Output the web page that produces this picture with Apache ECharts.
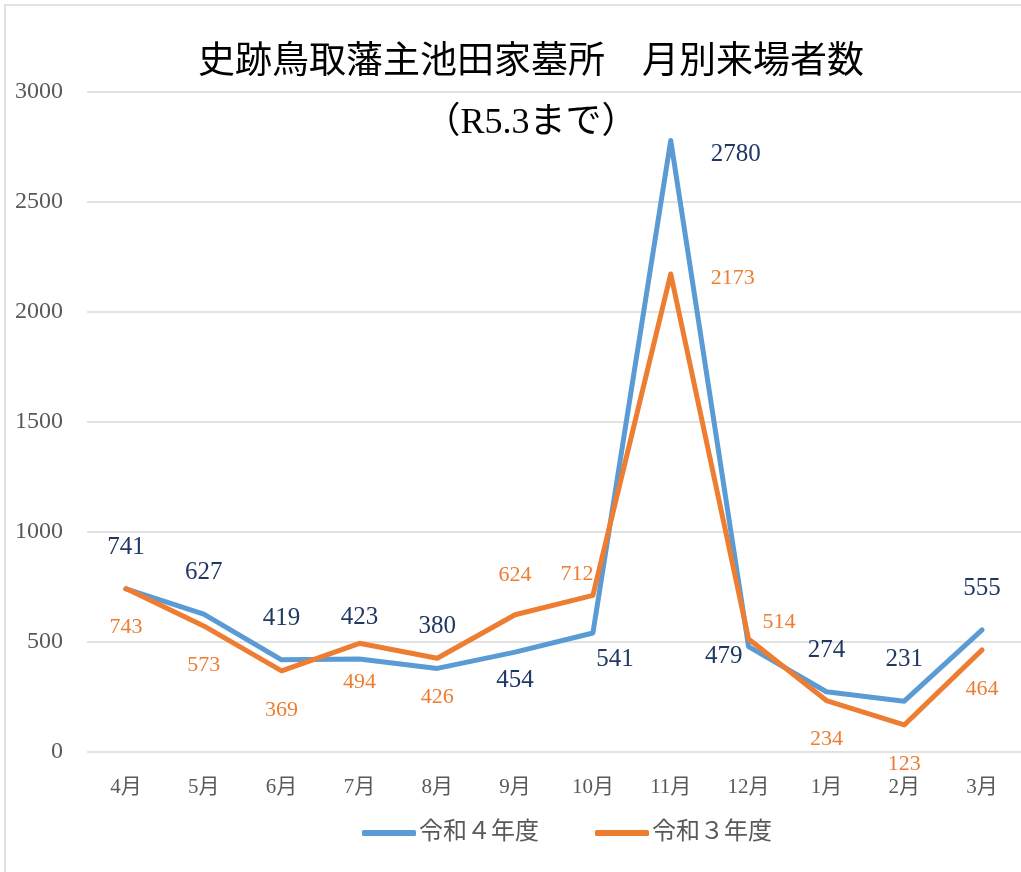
<!DOCTYPE html>
<html>
<head>
<meta charset="utf-8">
<script src="https://cdn.jsdelivr.net/npm/echarts@6/dist/echarts.min.js"></script>
<style>
  html, body { margin: 0; padding: 0; background: #fff; }
  #main { width: 1021px; height: 872px; }
</style>
</head>
<body>
<div id="main"></div>
<script>
const months = ['4月', '5月', '6月', '7月', '8月', '9月', '10月', '11月', '12月', '1月', '2月', '3月'];
const r4Values = [741, 627, 419, 423, 380, 454, 541, 2780, 479, 274, 231, 555];
const r3Values = [743, 573, 369, 494, 426, 624, 712, 2173, 514, 234, 123, 464];
const yTicks = [0, 500, 1000, 1500, 2000, 2500, 3000];

// label placement per point (above / below / side)
const r4LabelPos = ['top', 'top', 'top', 'top', 'top', 'bottomNear', 'bottomRight', 'rightLow', 'bottomLeft', 'top', 'top', 'top'];
const r3LabelPos = ['bottom', 'bottom', 'bottom', 'bottom', 'bottom', 'top', 'topLeft', 'rightHigh', 'topRight', 'bottom', 'bottom', 'bottom'];

const serif = "'Liberation Serif', 'DejaVu Serif', 'Noto Sans CJK JP', serif";

function labelFor(pos) {
  switch (pos) {
    case 'top': return { position: 'top', distance: 29 };
    case 'bottom': return { position: 'bottom', distance: 28 };
    case 'bottomNear': return { position: 'bottom', distance: 16 };
    case 'rightLow': return { position: 'right', distance: 40, offset: [0, 14] };
    case 'rightHigh': return { position: 'right', distance: 40, offset: [0, 4] };
    case 'bottomRight': return { position: 'bottom', distance: 14, offset: [22, 0] };
    case 'bottomLeft': return { position: 'left', distance: 6, offset: [0, 10] };
    case 'topLeft': return { position: 'top', distance: 10, offset: [-16, 0] };
    case 'topRight': return { position: 'right', distance: 14, offset: [0, -17] };
  }
}

function buildData(values, positions) {
  return values.map((v, i) => ({ value: v, label: labelFor(positions[i]) }));
}

const chart = echarts.init(document.getElementById('main'));

chart.setOption({
  backgroundColor: '#fff',
  animation: false,
  title: {
    text: '史跡鳥取藩主池田家墓所　月別来場者数',
    subtext: '（R5.3まで）',
    left: 526,
    top: 40,
    textAlign: 'center',
    itemGap: 24,
    textStyle: { fontFamily: serif, fontSize: 37, fontWeight: 'normal', color: '#000' },
    subtextStyle: { fontFamily: serif, fontSize: 36, color: '#000' }
  },
  graphic: [{
    type: 'rect',
    shape: { x: 5, y: 5, width: 1100, height: 1000 },
    style: { fill: 'none', stroke: '#d9d9d9', lineWidth: 1.5 },
    silent: true
  }],
  legend: {
    bottom: 22,
    left: 357,
    itemGap: 56,
    itemWidth: 54,
    itemHeight: 6,
    icon: 'roundRect',
    textStyle: { fontFamily: serif, fontSize: 24, color: '#595959', padding: [0, 0, 0, -2] },
    data: ['令和４年度', '令和３年度']
  },
  grid: { left: 87, right: -1, top: 92, bottom: 120 },
  xAxis: {
    type: 'category',
    data: months,
    boundaryGap: true,
    axisLine: { show: false },
    axisTick: { show: false },
    axisLabel: { fontFamily: serif, fontSize: 21, color: '#595959', margin: 25 }
  },
  yAxis: {
    type: 'value',
    min: yTicks[0],
    max: yTicks[yTicks.length - 1],
    interval: 500,
    axisLine: { show: false },
    axisTick: { show: false },
    axisLabel: { fontFamily: serif, fontSize: 24, color: '#595959', margin: 24, formatter: v => String(v) },
    splitLine: { lineStyle: { color: '#d9d9d9', width: 1.5 } }
  },
  series: [
    {
      name: '令和４年度',
      type: 'line',
      data: buildData(r4Values, r4LabelPos),
      showSymbol: true,
      symbol: 'circle',
      symbolSize: 0,
      lineStyle: { color: '#5b9bd5', width: 5, join: 'round', cap: 'round' },
      itemStyle: { color: '#5b9bd5' },
      label: { show: true, fontFamily: serif, fontSize: 25, color: '#203864' },
      z: 3
    },
    {
      name: '令和３年度',
      type: 'line',
      data: buildData(r3Values, r3LabelPos),
      showSymbol: true,
      symbol: 'circle',
      symbolSize: 0,
      lineStyle: { color: '#ed7d31', width: 5, join: 'round', cap: 'round' },
      itemStyle: { color: '#ed7d31' },
      label: { show: true, fontFamily: serif, fontSize: 22, color: '#ed7d31' },
      z: 4
    }
  ]
});
</script>
</body>
</html>
